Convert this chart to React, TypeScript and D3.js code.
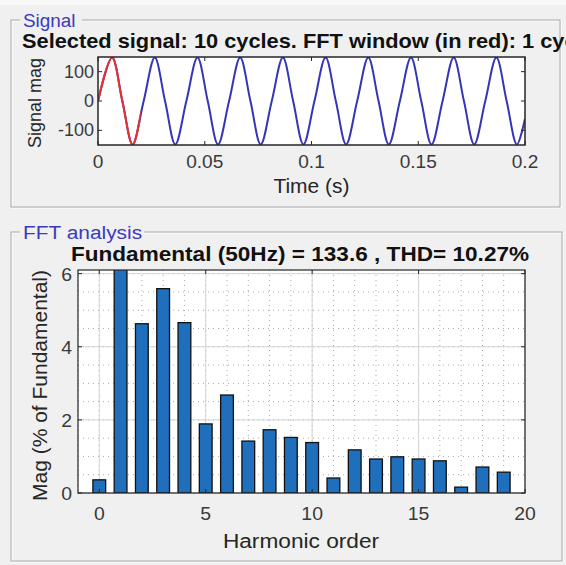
import React from 'react';
import * as d3 from 'd3';

const sigTime = [
  0, 0.0066, 0.0114, 0.0162, 0.0214, 0.0266, 0.0314, 0.0362, 0.0414, 0.0466, 0.0514,
  0.0562, 0.0614, 0.0666, 0.0714, 0.0762, 0.0814, 0.0866, 0.0914, 0.0962, 0.1014,
  0.1066, 0.1114, 0.1162, 0.1214, 0.1266, 0.1314, 0.1362, 0.1414, 0.1466, 0.1514,
  0.1562, 0.1614, 0.1666, 0.1714, 0.1762, 0.1814, 0.1866, 0.1914, 0.1962, 0.2,
];
const sigValue = [
  0, 148, 0, -148, 0, 148, 0, -148, 0, 148, 0,
  -148, 0, 148, 0, -148, 0, 148, 0, -148, 0,
  148, 0, -148, 0, 148, 0, -148, 0, 148, 0,
  -148, 0, 148, 0, -148, 0, 148, 0, -148, -60,
];
const fftWindow = [0, 0.02];
const timeTicks = [0, 0.05, 0.1, 0.15, 0.2];
const sigTicks = [-100, 0, 100];

const harmonics = d3.range(0, 20);
const harmonicMag = [
  0.36, 6.25, 4.63, 5.59, 4.66, 1.89, 2.68, 1.42, 1.73, 1.52,
  1.38, 0.41, 1.18, 0.93, 0.99, 0.93, 0.88, 0.16, 0.71, 0.57,
];
const harmTicks = [0, 5, 10, 15, 20];
const magTicks = [0, 2, 4, 6];

const FONT = '"Liberation Sans", Arial, Helvetica, sans-serif';
const BG = '#f0f0f0';
const INK = '#262626';
const TICK_INK = '#3a3a3a';

const sig = { left: 98, right: 525, top: 57, bottom: 145 };
const fft = { left: 78, right: 525, top: 270, bottom: 493 };

interface TxtProps {
  x: number;
  y: number;
  size: number;
  sx?: number;
  anchor?: 'start' | 'middle' | 'end';
  bold?: boolean;
  fill?: string;
  rotate?: boolean;
  children: React.ReactNode;
}

// matlab's text comes out a bit wider than Liberation Sans, so stretch horizontally
const Txt: React.FC<TxtProps> = ({ x, y, size, sx = 1, anchor = 'start', bold, fill = INK, rotate, children }) => (
  <text
    transform={`translate(${x},${y})${rotate ? ' rotate(-90)' : ''} scale(${sx},1)`}
    textAnchor={anchor}
    fontFamily={FONT}
    fontSize={size}
    fontWeight={bold ? 'bold' : 'normal'}
    fill={fill}
  >
    {children}
  </text>
);

const Panel: React.FC<{ x: number; y: number; w: number; h: number; label: string; labelW: number; sx: number }> = ({
  x, y, w, h, label, labelW, sx,
}) => (
  <g>
    <rect x={x + 1} y={y + 1} width={w} height={h} fill="none" stroke="#ffffff" />
    <rect x={x} y={y} width={w} height={h} fill="none" stroke="#a8a8a8" />
    <rect x={x + 9} y={y - 4} width={labelW} height={10} fill={BG} />
    <Txt x={x + 12} y={y + 7} size={18} sx={sx} fill="#3a3ac0">{label}</Txt>
  </g>
);

const App: React.FC = () => {
  const xs = d3.scaleLinear().domain([0, 0.2]).range([sig.left, sig.right]);
  const ys = d3.scaleLinear().domain([-150, 150]).range([sig.bottom, sig.top]);
  const pts = sigTime.map((t, i) => [t, sigValue[i]] as [number, number]);
  const line = d3
    .line<[number, number]>()
    .x(d => xs(d[0]))
    .y(d => ys(d[1]))
    .curve(d3.curveCatmullRom.alpha(0.5));
  const sigPath = line(pts) || '';

  const xb = d3.scaleLinear().domain([-1, 20]).range([fft.left, fft.right]);
  const yb = d3.scaleLinear().domain([0, 6.1]).range([fft.bottom, fft.top]);
  const barW = xb(0.6) - xb(0);
  const minorX = d3.range(-1, 21);
  const minorY = d3.range(0, 6.1, 0.5);

  return (
    <div style={{ position: 'fixed', left: 0, top: 0 }}>
      <svg width={566} height={565} style={{ display: 'block', background: BG }}>
        <defs>
          <clipPath id="sigClip">
            <rect x={sig.left} y={sig.top} width={sig.right - sig.left} height={sig.bottom - sig.top} />
          </clipPath>
          <clipPath id="redClip">
            <rect x={xs(fftWindow[0])} y={sig.top} width={xs(fftWindow[1]) - xs(fftWindow[0])} height={sig.bottom - sig.top} />
          </clipPath>
          <clipPath id="fftClip">
            <rect x={fft.left} y={fft.top} width={fft.right - fft.left} height={fft.bottom - fft.top} />
          </clipPath>
        </defs>
        <rect x={0} y={0} width={566} height={5} fill="#f8f8f8" />

        <Panel x={11} y={20} w={549} h={187} label="Signal" labelW={62} sx={1.05} />
        <Panel x={11} y={232} w={551} h={329} label="FFT analysis" labelW={124} sx={1.16} />

        {/* ---- signal axes ---- */}
        <rect x={sig.left} y={sig.top} width={sig.right - sig.left} height={sig.bottom - sig.top} fill="#ffffff" />
        <Txt x={sig.left - 57} y={(sig.top + sig.bottom) / 2 + 2} size={18} anchor="middle" rotate>
          Signal mag
        </Txt>
        <g clipPath="url(#sigClip)">
          <path d={sigPath} fill="none" stroke="#3535b8" strokeWidth={2} />
          <path d={sigPath} fill="none" stroke="#e8302e" strokeWidth={2} clipPath="url(#redClip)" />
        </g>
        <rect x={sig.left} y={sig.top} width={sig.right - sig.left} height={sig.bottom - sig.top} fill="none" stroke={INK} strokeWidth={1.5} />
        {timeTicks.map(t => (
          <g key={'tt' + t}>
            <line x1={xs(t)} x2={xs(t)} y1={sig.bottom} y2={sig.bottom - 4} stroke={INK} />
            <line x1={xs(t)} x2={xs(t)} y1={sig.top} y2={sig.top + 4} stroke={INK} />
            <Txt x={xs(t)} y={sig.bottom + 23} size={18} sx={1.06} anchor="middle" fill={TICK_INK}>
              {String(t)}
            </Txt>
          </g>
        ))}
        {sigTicks.map(v => (
          <g key={'st' + v}>
            <line x1={sig.left} x2={sig.left + 4} y1={ys(v)} y2={ys(v)} stroke={INK} />
            <line x1={sig.right} x2={sig.right - 4} y1={ys(v)} y2={ys(v)} stroke={INK} />
            <Txt x={sig.left - 4} y={ys(v) + 6} size={18} anchor="end" fill={TICK_INK}>
              {String(v)}
            </Txt>
          </g>
        ))}
        <Txt x={(sig.left + sig.right) / 2} y={sig.bottom + 48} size={20} sx={1.05} anchor="middle">
          Time (s)
        </Txt>
        <Txt x={22} y={48} size={20} sx={1.09} bold fill="#111">
          Selected signal: 10 cycles. FFT window (in red): 1 cycle
        </Txt>

        {/* ---- FFT axes ---- */}
        <rect x={fft.left} y={fft.top} width={fft.right - fft.left} height={fft.bottom - fft.top} fill="#ffffff" />
        <g>
          {minorX.map(h => (
            <line key={'mx' + h} x1={xb(h)} x2={xb(h)} y1={fft.top} y2={fft.bottom} stroke="#aaaaaa" strokeDasharray="1,4" />
          ))}
          {minorY.map(v => (
            <line key={'my' + v} x1={fft.left} x2={fft.right} y1={yb(v)} y2={yb(v)} stroke="#aaaaaa" strokeDasharray="1,4" />
          ))}
          {harmTicks.map(h => (
            <line key={'gx' + h} x1={xb(h)} x2={xb(h)} y1={fft.top} y2={fft.bottom} stroke="#d4d4d4" />
          ))}
          {magTicks.map(v => (
            <line key={'gy' + v} x1={fft.left} x2={fft.right} y1={yb(v)} y2={yb(v)} stroke="#d4d4d4" />
          ))}
        </g>
        <g clipPath="url(#fftClip)">
          {harmonics.map((h, i) => (
            <rect
              key={'b' + h}
              x={xb(h) - barW / 2}
              y={yb(harmonicMag[i])}
              width={barW}
              height={yb(0) - yb(harmonicMag[i])}
              fill="#1f6fbd"
              stroke="#111"
              strokeWidth={1.3}
            />
          ))}
        </g>
        <rect x={fft.left} y={fft.top} width={fft.right - fft.left} height={fft.bottom - fft.top} fill="none" stroke={INK} strokeWidth={1.2} />
        {harmTicks.map(h => (
          <g key={'ht' + h}>
            <line x1={xb(h)} x2={xb(h)} y1={fft.bottom} y2={fft.bottom - 4} stroke={INK} />
            <line x1={xb(h)} x2={xb(h)} y1={fft.top} y2={fft.top + 4} stroke={INK} />
            <Txt x={xb(h)} y={fft.bottom + 27} size={18} sx={1.08} anchor="middle" fill={TICK_INK}>
              {String(h)}
            </Txt>
          </g>
        ))}
        {magTicks.map(v => (
          <g key={'mt' + v}>
            <line x1={fft.left} x2={fft.left + 4} y1={yb(v)} y2={yb(v)} stroke={INK} />
            <line x1={fft.right} x2={fft.right - 4} y1={yb(v)} y2={yb(v)} stroke={INK} />
            <Txt x={fft.left - 6} y={yb(v) + 7} size={18} sx={1.08} anchor="end" fill={TICK_INK}>
              {String(v)}
            </Txt>
          </g>
        ))}
        <Txt x={301} y={548} size={21} sx={1.08} anchor="middle">
          Harmonic order
        </Txt>
        <Txt x={fft.left - 31} y={(fft.top + fft.bottom) / 2 + 4} size={20} sx={1.05} anchor="middle" rotate>
          Mag (% of Fundamental)
        </Txt>
        <Txt x={300} y={261} size={20} sx={1.13} anchor="middle" bold fill="#111">
          Fundamental (50Hz) = 133.6 , THD= 10.27%
        </Txt>
      </svg>
    </div>
  );
};

export default App;
